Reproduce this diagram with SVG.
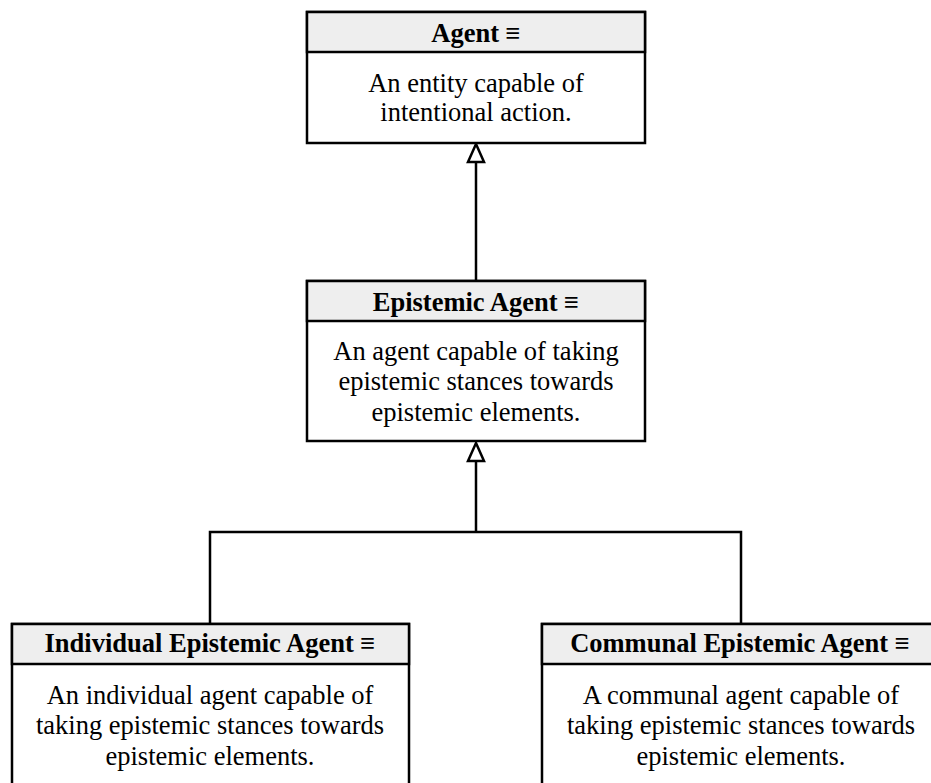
<svg xmlns="http://www.w3.org/2000/svg" width="931" height="783" viewBox="0 0 931 783">
<style>
.box{fill:#ffffff;stroke:#000000;stroke-width:2.5}
.hdr{fill:#eeeeee;stroke:#000000;stroke-width:2.5}
.t{font-family:"Liberation Serif","Times New Roman",serif;font-size:26.5px;fill:#000000;text-anchor:middle}
.b{font-weight:bold}
.c{fill:none;stroke:#000000;stroke-width:2.5}
.ah{fill:#ffffff;stroke:#000000;stroke-width:2.5}
</style>
<rect width="931" height="783" fill="#ffffff"/>
<g id="connectors">
<path class="c" d="M476,280 L476,162"/>
<path class="c" d="M476,531 L476,462"/>
<path class="c" d="M210,624 L210,532 L741,532 L741,624"/>
<path class="ah" d="M476,144 L484,162 L468,162 Z"/>
<path class="ah" d="M476,443 L484,461 L468,461 Z"/>
</g>
<g id="agent">
<rect class="box" x="307" y="12" width="338" height="131"/>
<rect class="hdr" x="307" y="12" width="338" height="40"/>
<text class="t b" x="476" y="42">Agent ≡</text>
<text class="t" x="476" y="92">An entity capable of</text>
<text class="t" x="476" y="121">intentional action.</text>
</g>
<g id="epistemic-agent">
<rect class="box" x="307" y="281" width="338" height="160"/>
<rect class="hdr" x="307" y="281" width="338" height="40"/>
<text class="t b" x="476" y="311">Epistemic Agent ≡</text>
<text class="t" x="476" y="360">An agent capable of taking</text>
<text class="t" x="476" y="390">epistemic stances towards</text>
<text class="t" x="476" y="421">epistemic elements.</text>
</g>
<g id="individual-epistemic-agent">
<rect class="box" x="12" y="624" width="397" height="180"/>
<rect class="hdr" x="12" y="624" width="397" height="40"/>
<text class="t b" x="210" y="652">Individual Epistemic Agent ≡</text>
<text class="t" x="210" y="704">An individual agent capable of</text>
<text class="t" x="210" y="734">taking epistemic stances towards</text>
<text class="t" x="210" y="765">epistemic elements.</text>
</g>
<g id="communal-epistemic-agent">
<rect class="box" x="542" y="624" width="400" height="180"/>
<rect class="hdr" x="542" y="624" width="400" height="40"/>
<text class="t b" x="740" y="652">Communal Epistemic Agent ≡</text>
<text class="t" x="741" y="704">A communal agent capable of</text>
<text class="t" x="741" y="734">taking epistemic stances towards</text>
<text class="t" x="741" y="765">epistemic elements.</text>
</g>
</svg>
